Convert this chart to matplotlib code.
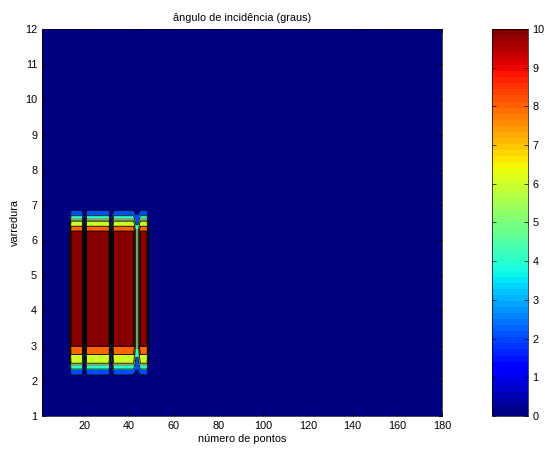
import numpy as np
import matplotlib.pyplot as plt
from matplotlib import cm
from matplotlib.colors import Normalize

# linhas de varredura (eixo y) e peso relativo de cada linha
y_rows = [1, 2, 2.5, 3, 6.25, 6.5, 7, 12]
row_weight = [0, 0, 0.6, 1.0, 1.0, 0.65, 0, 0]

# colunas (número de pontos) com ângulo não nulo, de 13 a 49
bar_cols = [13, 14, 15, 16, 17, 18, 19, 20, 21, 22, 23, 24, 25, 26, 27, 28, 29,
            30, 31, 32, 33, 34, 35, 36, 37, 38, 39, 40, 41, 42, 43, 44, 45, 46,
            47, 48, 49]
bar_vals = [0, 10, 10, 10, 10, 10, 10, 0, 10, 10, 10, 10, 10, 10, 10, 10, 10,
            10, 10, 0, 10, 10, 10, 10, 10, 10, 10, 10, 10, 10, 5.5, 5.5, 10, 10,
            10, 10, 0]

levels = [0, 2, 4, 5.2, 6, 8, 9.9, 10]
line_levels = [2, 4, 6, 8, 9.9]

x = np.arange(1, 181)
col_vals = np.zeros(len(x))
col_vals[np.array(bar_cols) - 1] = bar_vals
Z = np.outer(row_weight, col_vals)

plt.rcParams['font.family'] = ['Liberation Sans', 'DejaVu Sans']
plt.rcParams['font.size'] = 7.8

fig = plt.figure(figsize=(5.53, 4.49), dpi=100)
ax = fig.add_axes([0.076, 0.0735, 0.723, 0.862])

# cor de cada faixa = cor do nível inferior (como no MATLAB)
band_colors = [cm.jet(l / 10) for l in levels[:-1]]
band_colors[3] = (0.45, 0.68, 0.45, 1.0)  # faixa estreita esverdeada
ax.contourf(x, y_rows, Z, levels=levels, colors=band_colors)
ax.contour(x, y_rows, Z, levels=line_levels, colors='k', linewidths=0.6)

ax.set_xlim(1, 180)
ax.set_ylim(1, 12)
ax.set_xticks([20, 40, 60, 80, 100, 120, 140, 160, 180])
ax.set_yticks(range(1, 13))
ax.tick_params(direction='in', top=True, right=True, length=3, width=0.5)
for s in ax.spines.values():
    s.set_linewidth(0.5)
ax.set_title('ângulo de incidência (graus)', fontsize=7.8, pad=6)
ax.set_xlabel('número de pontos', labelpad=2)
ax.set_ylabel('varredura', labelpad=4)

cax = fig.add_axes([0.889, 0.0735, 0.065, 0.862])
sm = plt.cm.ScalarMappable(norm=Normalize(0, 10), cmap=plt.get_cmap('jet', 64))
cb = fig.colorbar(sm, cax=cax, ticks=range(0, 11))
cb.outline.set_linewidth(0.5)
cax.tick_params(direction='in', left=True, right=True, length=3, width=0.5)

fig.savefig('out.png', dpi=100)
